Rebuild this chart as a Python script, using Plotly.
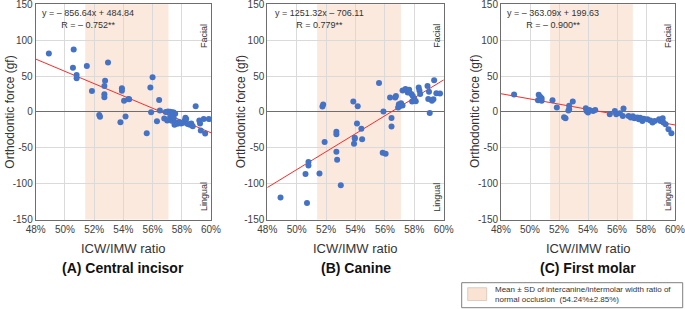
import plotly.graph_objects as go

# ---------------- data ----------------
a_x = [48.9, 50.6, 50.55, 50.8, 50.8, 51.5, 51.85, 52.95, 52.75, 52.7, 52.7, 52.7, 52.35, 52.4,
       53.9, 53.9, 54.05, 54.35, 54.4, 54.15, 53.8, 55.6, 55.85, 56.0, 55.9, 56.45, 56.5, 56.3, 56.8,
       56.9, 57.05, 57.2, 57.35, 57.45, 57.55, 57.35, 57.2, 57.0, 57.3, 57.45, 57.6, 57.5, 57.7, 57.8,
       57.95, 58.1, 58.2, 58.25, 58.3, 58.4, 58.55, 58.65, 58.75, 58.95, 59.2, 59.25, 59.3, 59.5,
       59.6, 59.85]
a_y = [81.5, 87.0, 61.6, 51.4, 46.8, 63.9, 29.2, 69.0, 43.5, 36.1, 24.5, 20.4, -4.2, -6.9,
       32.9, 29.6, 15.7, 18.1, 17.5, -6.5, -14.4, -29.6, 34.0, 48.2, -0.5, 16.7, 1.9, -13.0, -9.3,
       0.0, 0.5, 0.3, -0.5, -1.0, -2.5, -4.0, -7.0, -12.0, -12.5, -9.0, -15.0, -18.0, -16.5, -14.0,
       -16.0, -15.0, -12.0, -8.0, -10.0, -17.0, -18.0, -16.0, -20.0, 7.8, -12.0, -16.0, -26.0, -10.0,
       -30.0, -10.0]

b_x = [48.9, 50.7, 50.6, 50.8, 50.8, 51.55, 51.9, 51.75, 51.8, 52.7, 52.7, 52.7, 52.75, 53.0,
       53.85, 54.15, 53.95, 53.95, 53.9, 54.45, 54.1, 54.4, 55.6, 55.9, 55.85, 56.05, 56.35, 56.45,
       56.45, 56.7, 56.75, 56.95, 57.0, 56.9, 57.1, 57.2, 57.2, 57.4, 57.55, 57.65, 57.8, 57.9, 58.0,
       58.1, 58.3, 58.35, 58.4, 57.85, 58.9, 59.0, 58.95, 59.05, 59.2, 59.3, 59.35, 59.5, 59.75]
b_y = [-119.5, -127.0, -86.4, -70.0, -74.7, -85.9, -42.0, 7.5, 10.3, -27.6, -31.3, -55.6, -66.8, -102.3,
       14.5, 7.9, -36.0, -37.4, -44.4, -38.3, -16.3, -23.4, 40.2, 0.5, -57.0, -58.4, 20.0, -8.5,
       -20.5, 20.1, 22.0, 10.7, 8.0, 6.0, 12.0, 9.0, 30.0, 32.0, 27.0, 31.0, 25.0, 22.0, 18.0,
       15.0, 34.0, 30.0, 25.0, 14.5, 36.0, 28.0, 18.0, -1.4, 15.4, 17.7, 44.0, 26.0, 25.7]

c_x = [48.9, 50.6, 50.7, 50.8, 50.55, 50.8, 51.55, 51.85, 52.35, 52.45, 52.7, 52.7, 52.65, 52.95,
       53.85, 53.9, 54.0, 54.1, 54.35, 54.5, 55.5, 55.85, 55.95, 56.45, 56.4, 56.2, 56.8, 56.95,
       57.1, 57.2, 57.4, 57.5, 57.6, 57.75, 57.85, 58.1, 58.3, 58.45, 58.6, 58.9, 59.0, 59.15, 59.2,
       59.35, 59.55, 59.75]
c_y = [24.3, 23.8, 21.0, 19.1, 16.3, 15.4, 16.3, 6.1, -7.5, -8.9, 8.4, 3.7, 1.9, 14.5,
       5.1, 1.4, -1.0, 2.8, 1.4, 2.5, -3.3, 1.4, -3.3, 4.7, -5.6, -2.0, -5.6, -7.9,
       -6.0, -9.0, -7.9, -10.3, -8.0, -12.6, -9.5, -10.3, -12.0, -14.9, -12.6, -10.3, -12.6, -9.0, -14.9,
       -17.3, -24.3, -29.9]

slopes = [-856.64, 1251.32, -363.09]
intercepts = [484.84, -706.11, 199.63]
equations = ["y = \u2013 856.64x + 484.84<br>R = \u2013 0.752**",
             "y = 1251.32x \u2013 706.11<br>R = 0.779**",
             "y = \u2013 363.09x + 199.63<br>R = \u2013 0.900**"]
panel_titles = ["(A) Central incisor", "(B) Canine", "(C) First molar"]
x_ticks = [48, 50, 52, 54, 56, 58, 60]
x_ticklabels = ["48%", "50%", "52%", "54%", "56%", "58%", "60%"]
y_ticks = [-150, -100, -50, 0, 50, 100, 150]
y_ticklabels = ["-150", "-100", "-50", "0", "50", "100", "150"]
band_mean, band_sd = 54.24, 2.85
legend_text = "Mean \u00b1 SD of intercanine/intermolar width ratio of<br>normal occlusion  (54.24%\u00b12.85%)"

# ---------------- layout geometry ----------------
W, H = 685, 309
FONT = "Liberation Sans, Arial, sans-serif"
x_domains = [(35.7 / W, 211 / W), (267.3 / W, 443.7 / W), (501.0 / W, 675.0 / W)]
y_domain = ((H - 219.5) / H, (H - 4.3) / H)


def px(xp):
    return xp / W


def py(yp):
    return (H - yp) / H


fig = go.Figure()
datasets = [(a_x, a_y), (b_x, b_y), (c_x, c_y)]
txt = dict(xref="paper", yref="paper", showarrow=False, xanchor="center", yanchor="middle")

for i, (xs, ys) in enumerate(datasets):
    sfx = "" if i == 0 else str(i + 1)
    xa, ya = "x" + sfx, "y" + sfx
    lx = [x_ticks[0], x_ticks[-1]]
    ly = [slopes[i] * v / 100 + intercepts[i] for v in lx]
    fig.add_trace(go.Scatter(x=lx, y=ly, mode="lines", line=dict(color="#FF2A2A", width=1),
                             xaxis=xa, yaxis=ya, showlegend=False, hoverinfo="skip"))
    fig.add_trace(go.Scatter(x=xs, y=ys, mode="markers",
                             marker=dict(color="#4472C4", size=6, line=dict(width=0)),
                             xaxis=xa, yaxis=ya, showlegend=False))
    fig.add_shape(type="rect", xref=xa, yref=ya + " domain",
                  x0=band_mean - band_sd, x1=band_mean + band_sd, y0=0, y1=1,
                  fillcolor="#FBE9DE", line=dict(width=0), layer="below")
    axis_common = dict(showline=True, linecolor="#6E6E6E", linewidth=1, mirror=True,
                       showgrid=True, gridcolor="#DADADA", gridwidth=1, ticks="",
                       automargin=False, ticklabeloverflow="allow",
                       tickfont=dict(family=FONT, size=10, color="#404040"))
    fig.update_layout(**{
        "xaxis" + sfx: dict(domain=list(x_domains[i]), range=[48, 60], tickvals=x_ticks,
                            ticktext=x_ticklabels, anchor=ya, zeroline=False, **axis_common),
        "yaxis" + sfx: dict(domain=list(y_domain), range=[-150, 150], tickvals=y_ticks,
                            ticktext=y_ticklabels, anchor=xa, zeroline=True,
                            zerolinecolor="#6E6E6E", zerolinewidth=1, **axis_common),
    })
    x0p, x1p = x_domains[i][0] * W, x_domains[i][1] * W
    xc = (x0p + x1p) / 2
    fig.add_annotation(x=px(xc), y=py(248), text="ICW/IMW ratio",
                       font=dict(family=FONT, size=13, color="#333333"), **txt)
    fig.add_annotation(x=px(xc), y=py(268), text="<b>" + panel_titles[i] + "</b>",
                       font=dict(family=FONT, size=14, color="#111111"), **txt)
    fig.add_annotation(x=px(x0p - 26), y=py(112), text="Orthodontic force (gf)", textangle=-90,
                       font=dict(family=FONT, size=12, color="#333333"), **txt)
    fig.add_annotation(x=px(x0p + 52), y=py(19), text=equations[i], align="center",
                       font=dict(family=FONT, size=9, color="#333333"), **txt)
    fig.add_annotation(x=px(x1p - 7), y=py(36), text="Facial", textangle=-90,
                       font=dict(family=FONT, size=9, color="#333333"), **txt)
    fig.add_annotation(x=px(x1p - 7), y=py(197), text="Lingual", textangle=-90,
                       font=dict(family=FONT, size=9, color="#333333"), **txt)

# legend box
fig.add_shape(type="rect", xref="paper", yref="paper", x0=px(461.7), x1=px(682.7),
              y0=py(307.7), y1=py(282.7), line=dict(color="#7F7F7F", width=1), fillcolor="white")
fig.add_shape(type="rect", xref="paper", yref="paper", x0=px(467.7), x1=px(486.7),
              y0=py(300.5), y1=py(287.7), line=dict(color="#C9B5A8", width=0.6), fillcolor="#FBE3D4")
fig.add_annotation(xref="paper", yref="paper", x=px(492.5), y=py(294.5), xanchor="left",
                   yanchor="middle", text=legend_text, showarrow=False, align="left",
                   font=dict(family=FONT, size=8, color="#333333"))

fig.update_layout(width=W, height=H, margin=dict(l=0, r=0, t=0, b=0, pad=0, autoexpand=False),
                  paper_bgcolor="white", plot_bgcolor="white", showlegend=False)

post = ("var s=document.createElement('style');"
        "s.innerHTML='html,body{margin:0!important;padding:0!important;overflow:hidden!important;"
        "width:685px;height:309px;}';"
        "document.head.appendChild(s);")

fig.write_html("out.html", config={"displayModeBar": False, "responsive": False},
               post_script=post)
